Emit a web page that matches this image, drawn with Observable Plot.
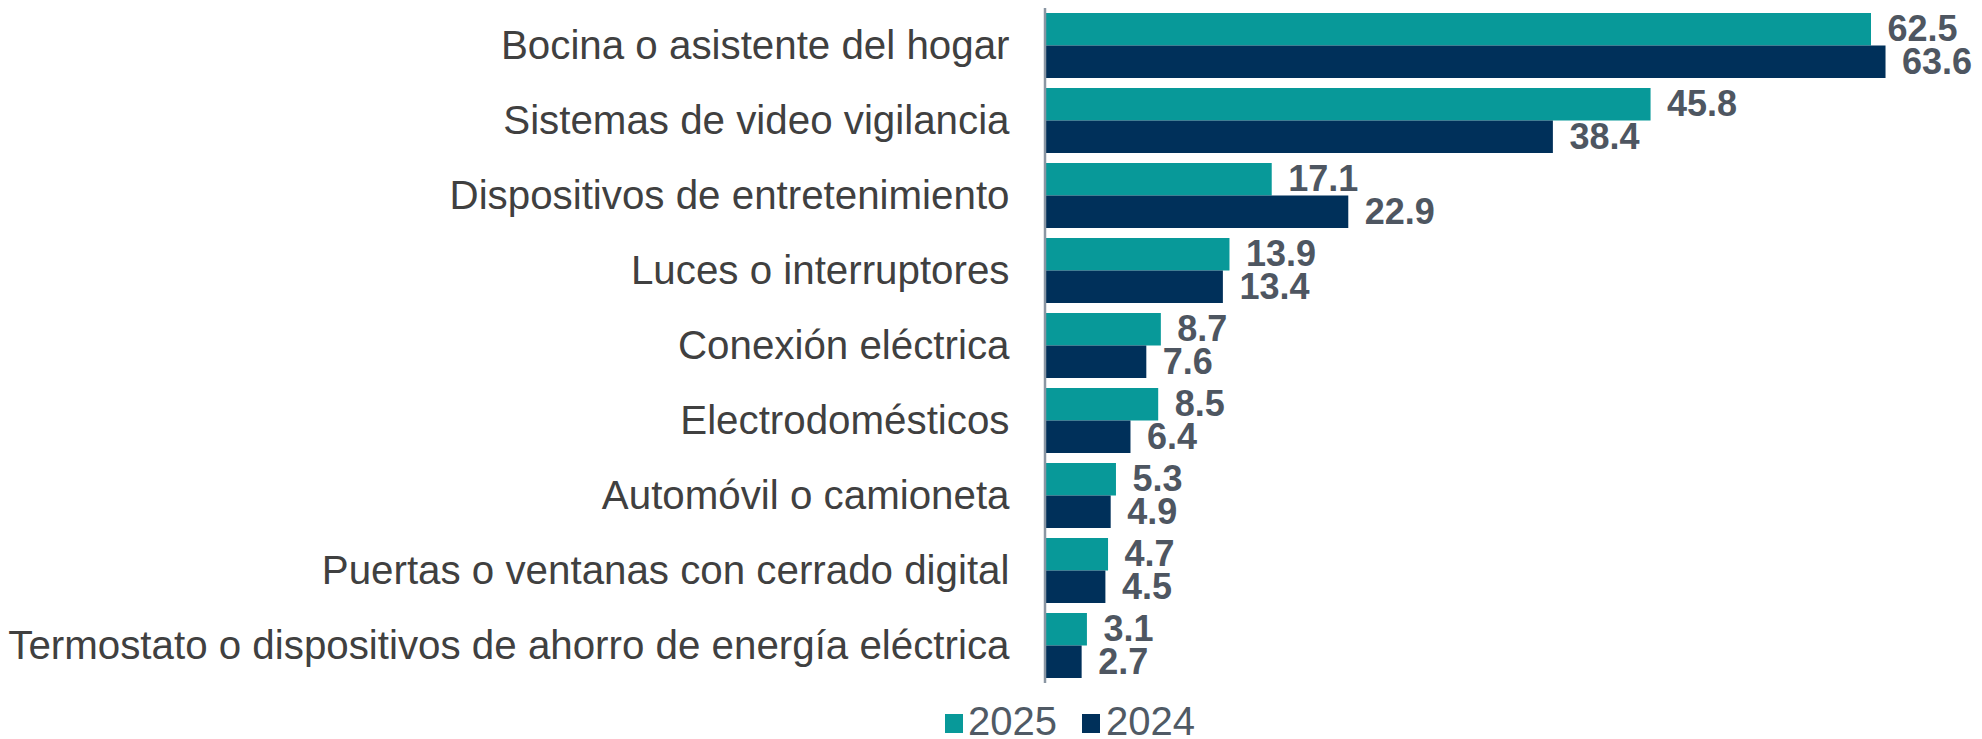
<!DOCTYPE html>
<html>
<head>
<meta charset="utf-8">
<script src="https://cdn.jsdelivr.net/npm/d3@7"></script>
<script src="https://cdn.jsdelivr.net/npm/@observablehq/plot@0.6"></script>
<style>
  html, body { margin: 0; padding: 0; background: #fff; }
  #wrap { position: relative; width: 1982px; height: 739px; overflow: hidden; font-family: "Liberation Sans", Arial, sans-serif; }
  .sw { position: absolute; width: 18px; height: 19px; top: 714px; }
  .lt { position: absolute; top: 703px; font-size: 40px; line-height: 36px; height: 36px; color: #505a65; white-space: nowrap; }
</style>
</head>
<body>
<div id="wrap">
  <div id="chart"></div>
  <div class="sw" style="left:945px;background:#089999"></div>
  <div class="lt" style="left:968px">2025</div>
  <div class="sw" style="left:1082px;background:#00305a"></div>
  <div class="lt" style="left:1106px">2024</div>
</div>
<script>
const categories = [
  "Bocina o asistente del hogar",
  "Sistemas de video vigilancia",
  "Dispositivos de entretenimiento",
  "Luces o interruptores",
  "Conexión eléctrica",
  "Electrodomésticos",
  "Automóvil o camioneta",
  "Puertas o ventanas con cerrado digital",
  "Termostato o dispositivos de ahorro de energía eléctrica"
];
const values2025 = [62.5, 45.8, 17.1, 13.9, 8.7, 8.5, 5.3, 4.7, 3.1];
const values2024 = [63.6, 38.4, 22.9, 13.4, 7.6, 6.4, 4.9, 4.5, 2.7];

const rows2025 = categories.map((c, i) => ({category: c, value: values2025[i]}));
const rows2024 = categories.map((c, i) => ({category: c, value: values2024[i]}));

const teal = "#089999";
const navy = "#00305a";
const labelColor = "#4e5661";

const chart = Plot.plot({
  width: 1982,
  height: 700,
  marginTop: 8,
  marginBottom: 17,
  marginLeft: 1046,
  marginRight: 12,
  style: {fontFamily: "'Liberation Sans', Arial, sans-serif", fontSize: "40px", background: "#fff"},
  x: {domain: [0, 70], axis: null},
  y: {domain: categories, paddingInner: 10/75, paddingOuter: 5/75, label: null},
  marks: [
    Plot.axisY({tickSize: 0, tickPadding: 37, fontSize: 40.3, fill: "#404040", label: null}),
    Plot.barX(rows2025, {x: "value", y: "category", fill: teal, insetBottom: 32.5}),
    Plot.barX(rows2024, {x: "value", y: "category", fill: navy, insetTop: 32.5}),
    Plot.text(rows2025, {x: "value", y: "category", text: d => d.value.toFixed(1), dy: -16.25, dx: 16, textAnchor: "start", fontSize: 36, fontWeight: "bold", fill: labelColor}),
    Plot.text(rows2024, {x: "value", y: "category", text: d => d.value.toFixed(1), dy: 16.25, dx: 16, textAnchor: "start", fontSize: 36, fontWeight: "bold", fill: labelColor}),
    Plot.ruleX([0], {stroke: "#8a96a3", strokeWidth: 2.5, dx: -1.5})
  ]
});
document.getElementById("chart").appendChild(chart);
</script>
</body>
</html>
